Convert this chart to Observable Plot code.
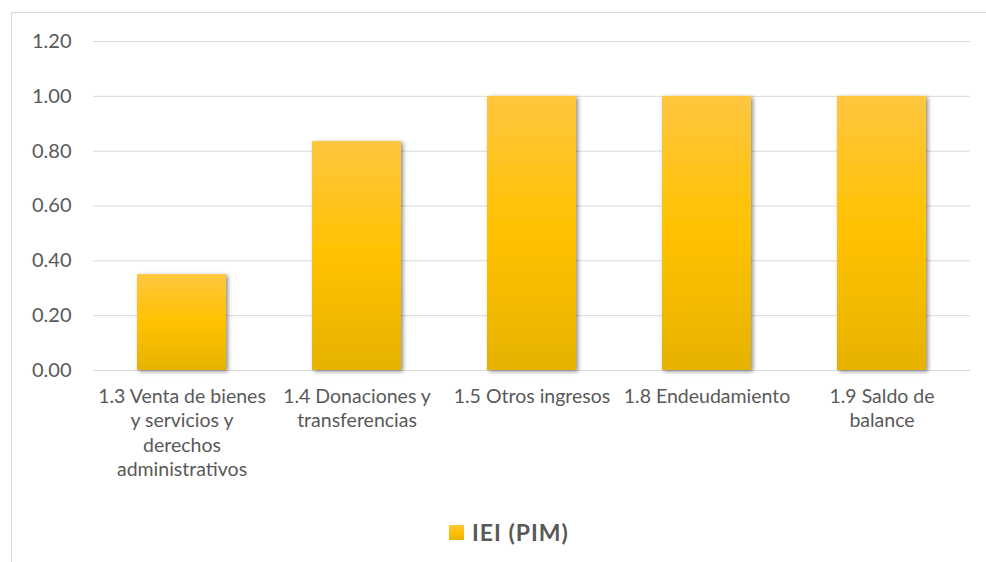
<!DOCTYPE html>
<html>
<head>
<meta charset="utf-8">
<script src="https://cdn.jsdelivr.net/npm/d3@7"></script>
<script src="https://cdn.jsdelivr.net/npm/@observablehq/plot@0.6"></script>
<style>
  html, body { margin: 0; padding: 0; background: #fff; }
  body { width: 986px; height: 562px; position: relative; overflow: hidden; font-family: Lato, "Open Sans", sans-serif; }
  #frame { position: absolute; left: 11px; top: 12px; width: 990px; height: 560px; border-left: 1px solid #d9d9d9; border-top: 1px solid #d9d9d9; pointer-events: none; }
  #chart { position: absolute; left: 0; top: 0; }
  #legend { position: absolute; left: 449px; top: 512px; height: 40px; display: flex; align-items: center; gap: 8px; color: #595959; font-weight: bold; font-size: 23px; letter-spacing: 1px; }
  #legend .sw { width: 15px; height: 15px; background: linear-gradient(#FFC83F, #FFC000 55%, #E8B300); }
</style>
</head>
<body>
<div id="chart"></div>
<div id="legend"><span class="sw"></span><span id="legendText"></span></div>
<div id="frame"></div>
<script>
const categories = [
  "1.3 Venta de bienes y servicios y derechos administrativos",
  "1.4 Donaciones y transferencias",
  "1.5 Otros ingresos",
  "1.8 Endeudamiento",
  "1.9 Saldo de balance"
];
const tickLabels = [
  "1.3 Venta de bienes\ny servicios y\nderechos\nadministrativos",
  "1.4 Donaciones y\ntransferencias",
  "1.5 Otros ingresos",
  "1.8 Endeudamiento",
  "1.9 Saldo de\nbalance"
];
const values = [0.35, 0.835, 1.0, 1.0, 1.0];
const yTicks = [0, 0.2, 0.4, 0.6, 0.8, 1.0, 1.2];
const seriesName = "IEI (PIM)";

document.getElementById("legendText").textContent = seriesName;

const data = categories.map((c, i) => ({category: c, value: values[i], label: tickLabels[i]}));
const labelOf = new Map(categories.map((c, i) => [c, tickLabels[i]]));

const defs = () => {
  const g = d3.create("svg:defs");
  const lg = g.append("linearGradient").attr("id", "barGrad").attr("x1", 0).attr("y1", 0).attr("x2", 0).attr("y2", 1);
  lg.append("stop").attr("offset", "0%").attr("stop-color", "#FFC63F");
  lg.append("stop").attr("offset", "50%").attr("stop-color", "#FFC200");
  lg.append("stop").attr("offset", "100%").attr("stop-color", "#E6B200");
  const f = g.append("filter").attr("id", "barShadow").attr("x", "-10%").attr("y", "-10%").attr("width", "130%").attr("height", "130%");
  f.append("feDropShadow").attr("dx", 2).attr("dy", 1.5).attr("stdDeviation", 2).attr("flood-color", "#000").attr("flood-opacity", 0.45);
  return g.node();
};

const chart = Plot.plot({
  width: 986,
  height: 512,
  marginLeft: 93,
  marginRight: 16,
  marginTop: 41,
  marginBottom: 142,
  style: {fontFamily: "Lato, 'Open Sans', sans-serif", color: "#595959", background: "transparent"},
  x: {domain: categories, paddingInner: 0.49, paddingOuter: 0.245, label: null},
  y: {domain: [0, 1.2], label: null},
  marks: [
    defs,
    Plot.gridY(yTicks, {stroke: "#d9d9d9", strokeOpacity: 1, strokeWidth: 1}),
    Plot.ruleY([0], {stroke: "#d9d9d9", strokeWidth: 1}),
    Plot.barY(data, {x: "category", y: "value", fill: "url(#barGrad)"}),
    Plot.axisY({ticks: yTicks, tickSize: 0, tickPadding: 22, fontSize: 20, tickFormat: d => d.toFixed(2), fill: "#595959", label: null}),
    Plot.axisX({tickSize: 0, tickPadding: 15, fontSize: 19.5, lineHeight: 1.25, tickFormat: d => labelOf.get(d), fill: "#595959", label: null})
  ]
});
d3.select(chart).selectAll("rect").filter(function() { return this.getAttribute("fill") === "url(#barGrad)" || (this.parentNode && this.parentNode.getAttribute("fill") === "url(#barGrad)"); }).attr("filter", "url(#barShadow)");
document.getElementById("chart").appendChild(chart);
</script>
</body>
</html>
